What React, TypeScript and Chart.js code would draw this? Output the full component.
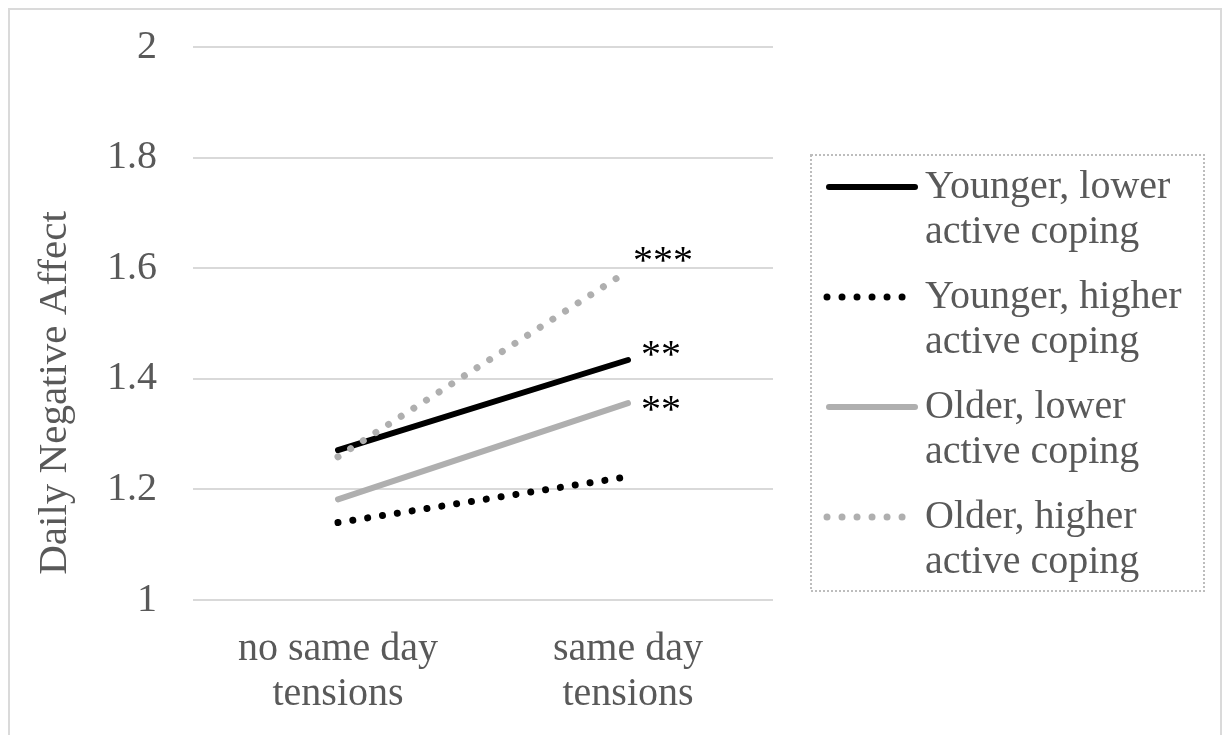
import React, { useEffect, useRef } from "react";
import { Chart, registerables } from "chart.js";

Chart.register(...registerables);

const categories = [["no same day", "tensions"], ["same day", "tensions"]];
const seriesNames = [
  "Younger, lower active coping",
  "Younger, higher active coping",
  "Older, lower active coping",
  "Older, higher active coping",
];
const legendLines = [
  ["Younger, lower", "active coping"],
  ["Younger, higher", "active coping"],
  ["Older, lower", "active coping"],
  ["Older, higher", "active coping"],
];
const youngerLower = [1.271, 1.434];
const youngerHigher = [1.14, 1.223];
const olderLower = [1.182, 1.356];
const olderHigher = [1.259, 1.595];
const significance = ["**", "", "**", "***"];
const yTickValues = [1, 1.2, 1.4, 1.6, 1.8, 2];
const yTickLabels = ["1", "1.2", "1.4", "1.6", "1.8", "2"];
const yAxisTitle = "Daily Negative Affect";

const FONT = "'Liberation Serif', 'Times New Roman', serif";
const TEXT = "#595959";
const GRAY = "#afafaf";

const decorPlugin = {
  id: "decor",
  beforeDraw(chart: any) {
    const ctx = chart.ctx;
    ctx.save();
    ctx.fillStyle = "#ffffff";
    ctx.fillRect(0, 0, chart.width, chart.height);
    ctx.strokeStyle = "#dadada";
    ctx.lineWidth = 2;
    ctx.beginPath();
    ctx.moveTo(9, chart.height + 5);
    ctx.lineTo(9, 9);
    ctx.lineTo(1221, 9);
    ctx.lineTo(1221, chart.height + 5);
    ctx.stroke();
    ctx.restore();
  },
  afterDraw(chart: any) {
    const ctx = chart.ctx;
    ctx.save();
    ctx.fillStyle = TEXT;
    ctx.font = `41px ${FONT}`;
    ctx.textAlign = "center";
    ctx.textBaseline = "middle";
    ctx.translate(55, 393);
    ctx.rotate(-Math.PI / 2);
    ctx.fillText(yAxisTitle, 0, 0);
    ctx.restore();

    ctx.save();
    ctx.fillStyle = "#000000";
    ctx.font = `40px ${FONT}`;
    ctx.textAlign = "left";
    ctx.textBaseline = "alphabetic";
    const offsets = [
      [13, 7],
      [13, 7],
      [13, 19],
      [5, 2],
    ];
    chart.data.datasets.forEach((ds: any, i: number) => {
      const txt = significance[i];
      if (!txt) return;
      const meta = chart.getDatasetMeta(i);
      const pt = meta.data[meta.data.length - 1];
      ctx.fillText(txt, pt.x + offsets[i][0], pt.y + offsets[i][1]);
    });
    ctx.restore();

    ctx.save();
    ctx.strokeStyle = "#bdbdbd";
    ctx.lineWidth = 2;
    ctx.setLineDash([2, 2]);
    ctx.strokeRect(811, 155, 393, 436);
    ctx.restore();

    chart.data.datasets.forEach((ds: any, i: number) => {
      const y0 = 187 + i * 110;
      ctx.save();
      ctx.strokeStyle = ds.borderColor;
      ctx.lineWidth = ds.borderWidth;
      ctx.lineCap = "round";
      const dashed = ds.borderDash && ds.borderDash.length;
      ctx.setLineDash(dashed ? ds.borderDash : []);
      ctx.beginPath();
      if (dashed) {
        ctx.moveTo(827, y0);
        ctx.lineTo(904, y0);
      } else {
        ctx.moveTo(829, y0);
        ctx.lineTo(915, y0);
      }
      ctx.stroke();
      ctx.restore();

      ctx.save();
      ctx.fillStyle = TEXT;
      ctx.font = `40px ${FONT}`;
      ctx.textAlign = "left";
      ctx.textBaseline = "middle";
      legendLines[i].forEach((line, j) => {
        ctx.fillText(line, 925, y0 + j * 45);
      });
      ctx.restore();
    });
  },
};

export default function App() {
  const canvasRef = useRef<HTMLCanvasElement | null>(null);

  useEffect(() => {
    const canvas = canvasRef.current;
    if (!canvas) return;
    const chart = new Chart(canvas, {
      type: "line",
      data: {
        labels: categories as any,
        datasets: [
          {
            label: seriesNames[0],
            data: youngerLower,
            borderColor: "#000000",
            backgroundColor: "#000000",
            borderWidth: 6,
            borderCapStyle: "round",
            pointRadius: 0,
            order: 1,
          },
          {
            label: seriesNames[1],
            data: youngerHigher,
            borderColor: "#000000",
            backgroundColor: "#000000",
            borderWidth: 7,
            borderDash: [0.01, 15],
            borderCapStyle: "round",
            pointRadius: 0,
            order: 2,
          },
          {
            label: seriesNames[2],
            data: olderLower,
            borderColor: GRAY,
            backgroundColor: GRAY,
            borderWidth: 6,
            borderCapStyle: "round",
            pointRadius: 0,
            order: 3,
          },
          {
            label: seriesNames[3],
            data: olderHigher,
            borderColor: GRAY,
            backgroundColor: GRAY,
            borderWidth: 7,
            borderDash: [0.01, 15],
            borderCapStyle: "round",
            pointRadius: 0,
            order: 0,
          },
        ] as any,
      },
      options: {
        responsive: false,
        animation: false,
        devicePixelRatio: 1,
        layout: { padding: { left: 0, top: 47, right: 452, bottom: 0 } },
        plugins: {
          legend: { display: false },
          tooltip: { enabled: false },
        },
        scales: {
          x: {
            offset: true,
            grid: { display: false },
            border: { display: false },
            ticks: {
              color: TEXT,
              font: { family: FONT, size: 40, lineHeight: 1.125 },
              padding: 19,
              maxRotation: 0,
              autoSkip: false,
            },
            afterFit: (s: any) => {
              s.height = 135;
            },
          },
          y: {
            min: 1,
            max: 2,
            grid: { color: "#d9d9d9", lineWidth: 2, drawTicks: false },
            border: { display: false },
            ticks: {
              color: TEXT,
              font: { family: FONT, size: 40 },
              padding: 36,
              callback: (v: any) => {
                const idx = yTickValues.findIndex((t) => Math.abs(t - Number(v)) < 1e-6);
                return idx >= 0 ? yTickLabels[idx] : "";
              },
            },
            afterBuildTicks: (s: any) => {
              s.ticks = yTickValues.map((v) => ({ value: v }));
            },
            afterFit: (s: any) => {
              s.width = 193;
              s.paddingTop = 0;
              s.paddingBottom = 0;
            },
          },
        },
      } as any,
      plugins: [decorPlugin],
    });
    return () => chart.destroy();
  }, []);

  return (
    <div style={{ position: "fixed", left: 0, top: 0, width: 1225, height: 735 }}>
      <canvas ref={canvasRef} width={1225} height={735} />
    </div>
  );
}
